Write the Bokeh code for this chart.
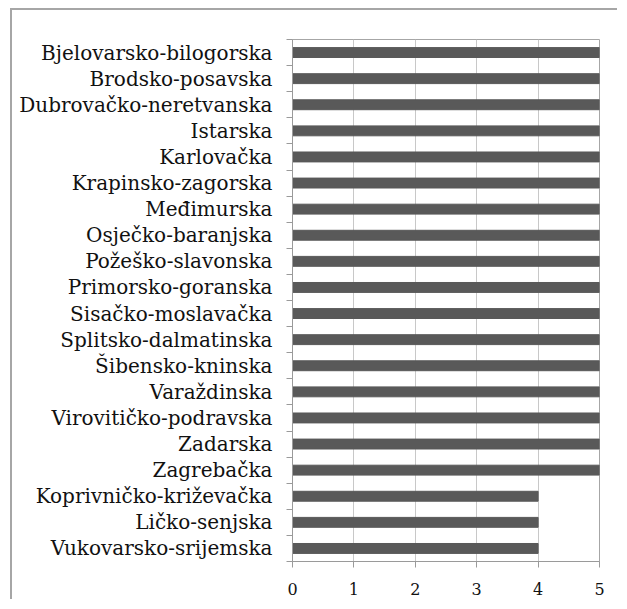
from bokeh.plotting import figure
from bokeh.models import FixedTicker, Range1d, ColumnDataSource
from bokeh.embed import file_html
from bokeh.resources import INLINE

counties = ["Bjelovarsko-bilogorska", "Brodsko-posavska", "Dubrovačko-neretvanska",
            "Istarska", "Karlovačka", "Krapinsko-zagorska", "Međimurska",
            "Osječko-baranjska", "Požeško-slavonska", "Primorsko-goranska",
            "Sisačko-moslavačka", "Splitsko-dalmatinska", "Šibensko-kninska",
            "Varaždinska", "Virovitičko-podravska", "Zadarska", "Zagrebačka",
            "Koprivničko-križevačka", "Ličko-senjska", "Vukovarsko-srijemska"]
values = [5, 5, 5, 5, 5, 5, 5, 5, 5, 5, 5, 5, 5, 5, 5, 5, 5, 4, 4, 4]
x_ticks = [0, 1, 2, 3, 4, 5]

n = len(counties)
ypos = [n - i - 0.5 for i in range(n)]
src = ColumnDataSource(dict(y=ypos, v=values, name=counties))

FONT = "DejaVu Serif"
p = figure(width=607, height=591, output_backend="svg", toolbar_location=None,
           x_range=Range1d(0, 5), y_range=Range1d(0, n),
           min_border_left=280, min_border_right=20, min_border_top=29, min_border_bottom=40,
           styles={"border-top": "2px solid #a6a6a6", "border-left": "2px solid #a6a6a6",
                   "margin-left": "10px", "margin-top": "8px"})
p.hbar(y="y", right="v", left=0, height=0.38, color="#595959", source=src)

p.outline_line_color = "#a6a6a6"
p.outline_line_width = 1

# x axis
p.xaxis.ticker = FixedTicker(ticks=x_ticks)
p.xaxis.axis_line_color = "#9a9a9a"
p.xaxis.major_tick_line_color = "#9a9a9a"
p.xaxis.major_tick_in = 0
p.xaxis.major_tick_out = 6
p.xaxis.minor_tick_line_color = None
p.xaxis.major_label_text_font = FONT
p.xaxis.major_label_text_font_size = "16px"
p.xaxis.major_label_text_color = "#111111"
p.xaxis.major_label_standoff = 15

# y axis
p.yaxis.ticker = FixedTicker(ticks=ypos, minor_ticks=list(range(n + 1)))
p.yaxis.major_label_overrides = {y: c for y, c in zip(ypos, counties)}
p.yaxis.axis_line_color = "#9a9a9a"
p.yaxis.major_tick_line_color = None
p.yaxis.minor_tick_line_color = "#9a9a9a"
p.yaxis.minor_tick_in = 0
p.yaxis.minor_tick_out = 6
p.yaxis.major_label_text_font = FONT
p.yaxis.major_label_text_font_size = "20px"
p.yaxis.major_label_text_color = "#111111"
p.yaxis.major_label_standoff = 14

p.xgrid.grid_line_color = "#c8c8c8"
p.ygrid.grid_line_color = None

open("out.html", "w").write(file_html(p, INLINE))
